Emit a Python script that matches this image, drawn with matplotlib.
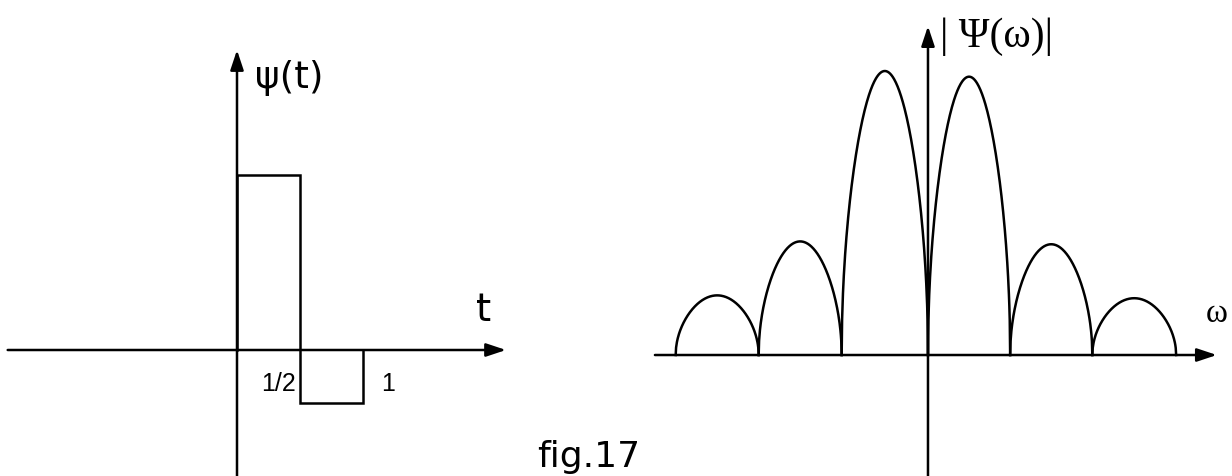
import numpy as np
import matplotlib
matplotlib.use("Agg")
import matplotlib.pyplot as plt

# Haar wavelet psi(t): piecewise constant levels on [0, 1/2) and [1/2, 1)
t_edges = [0.0, 0.5, 1.0]
psi_levels = [1.0, -0.30]
t_ticks = [0.5, 1.0]
t_tick_labels = ["1/2", "1"]

# |Psi(w)|: lobes between successive zeros (w in units of 4*pi) and lobe heights
lobe_edges = [-3.04, -2.04, -1.04, 0.0, 0.99, 1.98, 2.99]
lobe_peaks = [0.21, 0.40, 1.00, 0.98, 0.39, 0.20]

fig = plt.figure(figsize=(12.32, 4.76), dpi=100)
fig.patch.set_facecolor("white")

ax_t = fig.add_axes([0.0, 0.0, 0.5, 1.0])
ax_w = fig.add_axes([0.5, 0.0, 0.5, 1.0])

ax_t.set_xlim(-1.881, 3.008)
ax_t.set_ylim(-0.72, 2.0)
ax_w.set_xlim(-3.759, 3.663)
ax_w.set_ylim(-0.426, 1.25)
for ax in (ax_t, ax_w):
    ax.set_axis_off()

lw = 1.8
arrow = dict(arrowstyle="-|>,head_length=0.6,head_width=0.2", lw=lw,
             color="black", shrinkA=0, shrinkB=0, mutation_scale=20)

# left panel: coordinate axes
ax_t.annotate("", xy=(2.135, 0), xytext=(-1.82, 0), arrowprops=arrow)
ax_t.annotate("", xy=(0, 1.714), xytext=(0, -0.72), arrowprops=arrow)

# Haar pulse
tt = [t_edges[0]]
vv = [0.0]
for i, level in enumerate(psi_levels):
    tt += [t_edges[i], t_edges[i + 1]]
    vv += [level, level]
tt.append(t_edges[-1])
vv.append(0.0)
ax_t.plot(tt, vv, color="black", lw=lw, solid_joinstyle="miter")

ax_t.text(0.143, 1.554, "ψ(t)", fontsize=27, family="DejaVu Sans",
          ha="left", va="center")
ax_t.text(1.90, 0.166, "t", fontsize=28, family="DejaVu Sans",
          ha="left", va="baseline")
for x, lab in zip(t_ticks, t_tick_labels):
    off = -0.31 if lab == "1/2" else 0.145
    ax_t.text(x + off, -0.126, lab, fontsize=18, family="Liberation Sans",
              ha="left", va="top")

# right panel: coordinate axes
ax_w.annotate("", xy=(3.48, 0), xytext=(-3.29, 0), arrowprops=arrow)
ax_w.annotate("", xy=(0, 1.158), xytext=(0, -0.426), arrowprops=arrow)

# spectrum lobes
u = np.linspace(0, 1, 200)
for a, b, h in zip(lobe_edges[:-1], lobe_edges[1:], lobe_peaks):
    ax_w.plot(a + (b - a) * u, h * np.sqrt(np.sin(np.pi * u)),
              color="black", lw=lw)

ax_w.text(0.14, 1.12, "| Ψ(ω)|", fontsize=30, family="Liberation Serif",
          ha="left", va="center")
ax_w.text(3.35, 0.116, "ω", fontsize=24, family="Liberation Serif",
          ha="left", va="baseline")

fig.text(537 / 1232, 1 - 467 / 476, "fig.17", fontsize=26,
         family="DejaVu Sans", ha="left", va="baseline")

fig.savefig("out.png", dpi=100, facecolor="white")
